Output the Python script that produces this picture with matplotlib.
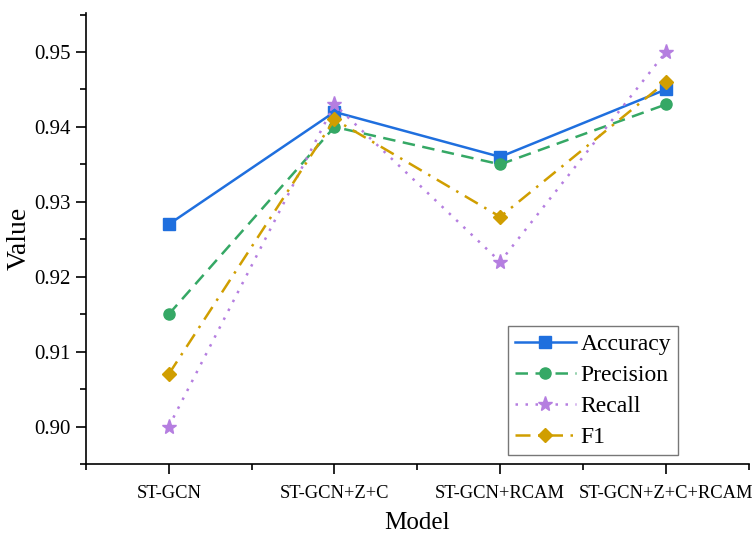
import numpy as np
import matplotlib.pyplot as plt
from matplotlib.ticker import MultipleLocator

models = ["ST-GCN", "ST-GCN+Z+C", "ST-GCN+RCAM", "ST-GCN+Z+C+RCAM"]
accuracy = [0.927, 0.942, 0.936, 0.945]
precision = [0.915, 0.940, 0.935, 0.943]
recall = [0.900, 0.943, 0.922, 0.950]
f1 = [0.907, 0.941, 0.928, 0.946]

plt.rcParams["font.family"] = ["Liberation Serif", "DejaVu Serif"]

fig = plt.figure(figsize=(7.54, 5.33), dpi=100)
ax = fig.add_axes([0.114, 0.1295, 0.879, 0.846])

x = np.arange(1, len(models) + 1)
ax.plot(x, accuracy, color="#1f6fde", ls="-", lw=1.8, marker="s", ms=8, label="Accuracy")
ax.plot(x, precision, color="#35a865", ls=(0, (5, 3)), lw=1.8, marker="o", ms=8, label="Precision")
ax.plot(x, recall, color="#b57ee0", ls=(0, (1, 3)), lw=1.8, marker="*", ms=11, label="Recall")
ax.plot(x, f1, color="#d09e00", ls=(0, (6, 3, 1, 3)), lw=1.8, marker="D", ms=7.5, label="F1")

ax.set_xlim(0.5, 4.5)
ax.set_ylim(0.895, 0.9552)
ax.set_xticks(x)
ax.set_xticklabels(models)
ax.xaxis.set_minor_locator(MultipleLocator(1, offset=0.5))
ax.yaxis.set_major_locator(MultipleLocator(0.01))
ax.yaxis.set_minor_locator(MultipleLocator(0.005))
ax.yaxis.set_major_formatter(plt.FormatStrFormatter("%.2f"))

ax.tick_params(which="major", direction="out", length=7, width=1.2)
ax.tick_params(axis="x", labelsize=13.3, pad=8)
ax.tick_params(axis="y", labelsize=15, pad=4)
ax.tick_params(which="minor", direction="out", length=4, width=1.2)
ax.spines["top"].set_visible(False)
ax.spines["right"].set_visible(False)
for s in ("left", "bottom"):
    ax.spines[s].set_linewidth(1.2)

ax.set_xlabel("Model", fontsize=18, labelpad=7)
ax.set_ylabel("Value", fontsize=20, labelpad=2)

leg = ax.legend(loc="lower right", bbox_to_anchor=(0.894, 0.02), fontsize=17,
                frameon=True, fancybox=False, edgecolor="#555555",
                handlelength=2.6, handletextpad=0.2, borderpad=0.3, labelspacing=0.4,
                borderaxespad=0)
leg.get_frame().set_linewidth(1.0)

fig.savefig("out.png", dpi=100)
